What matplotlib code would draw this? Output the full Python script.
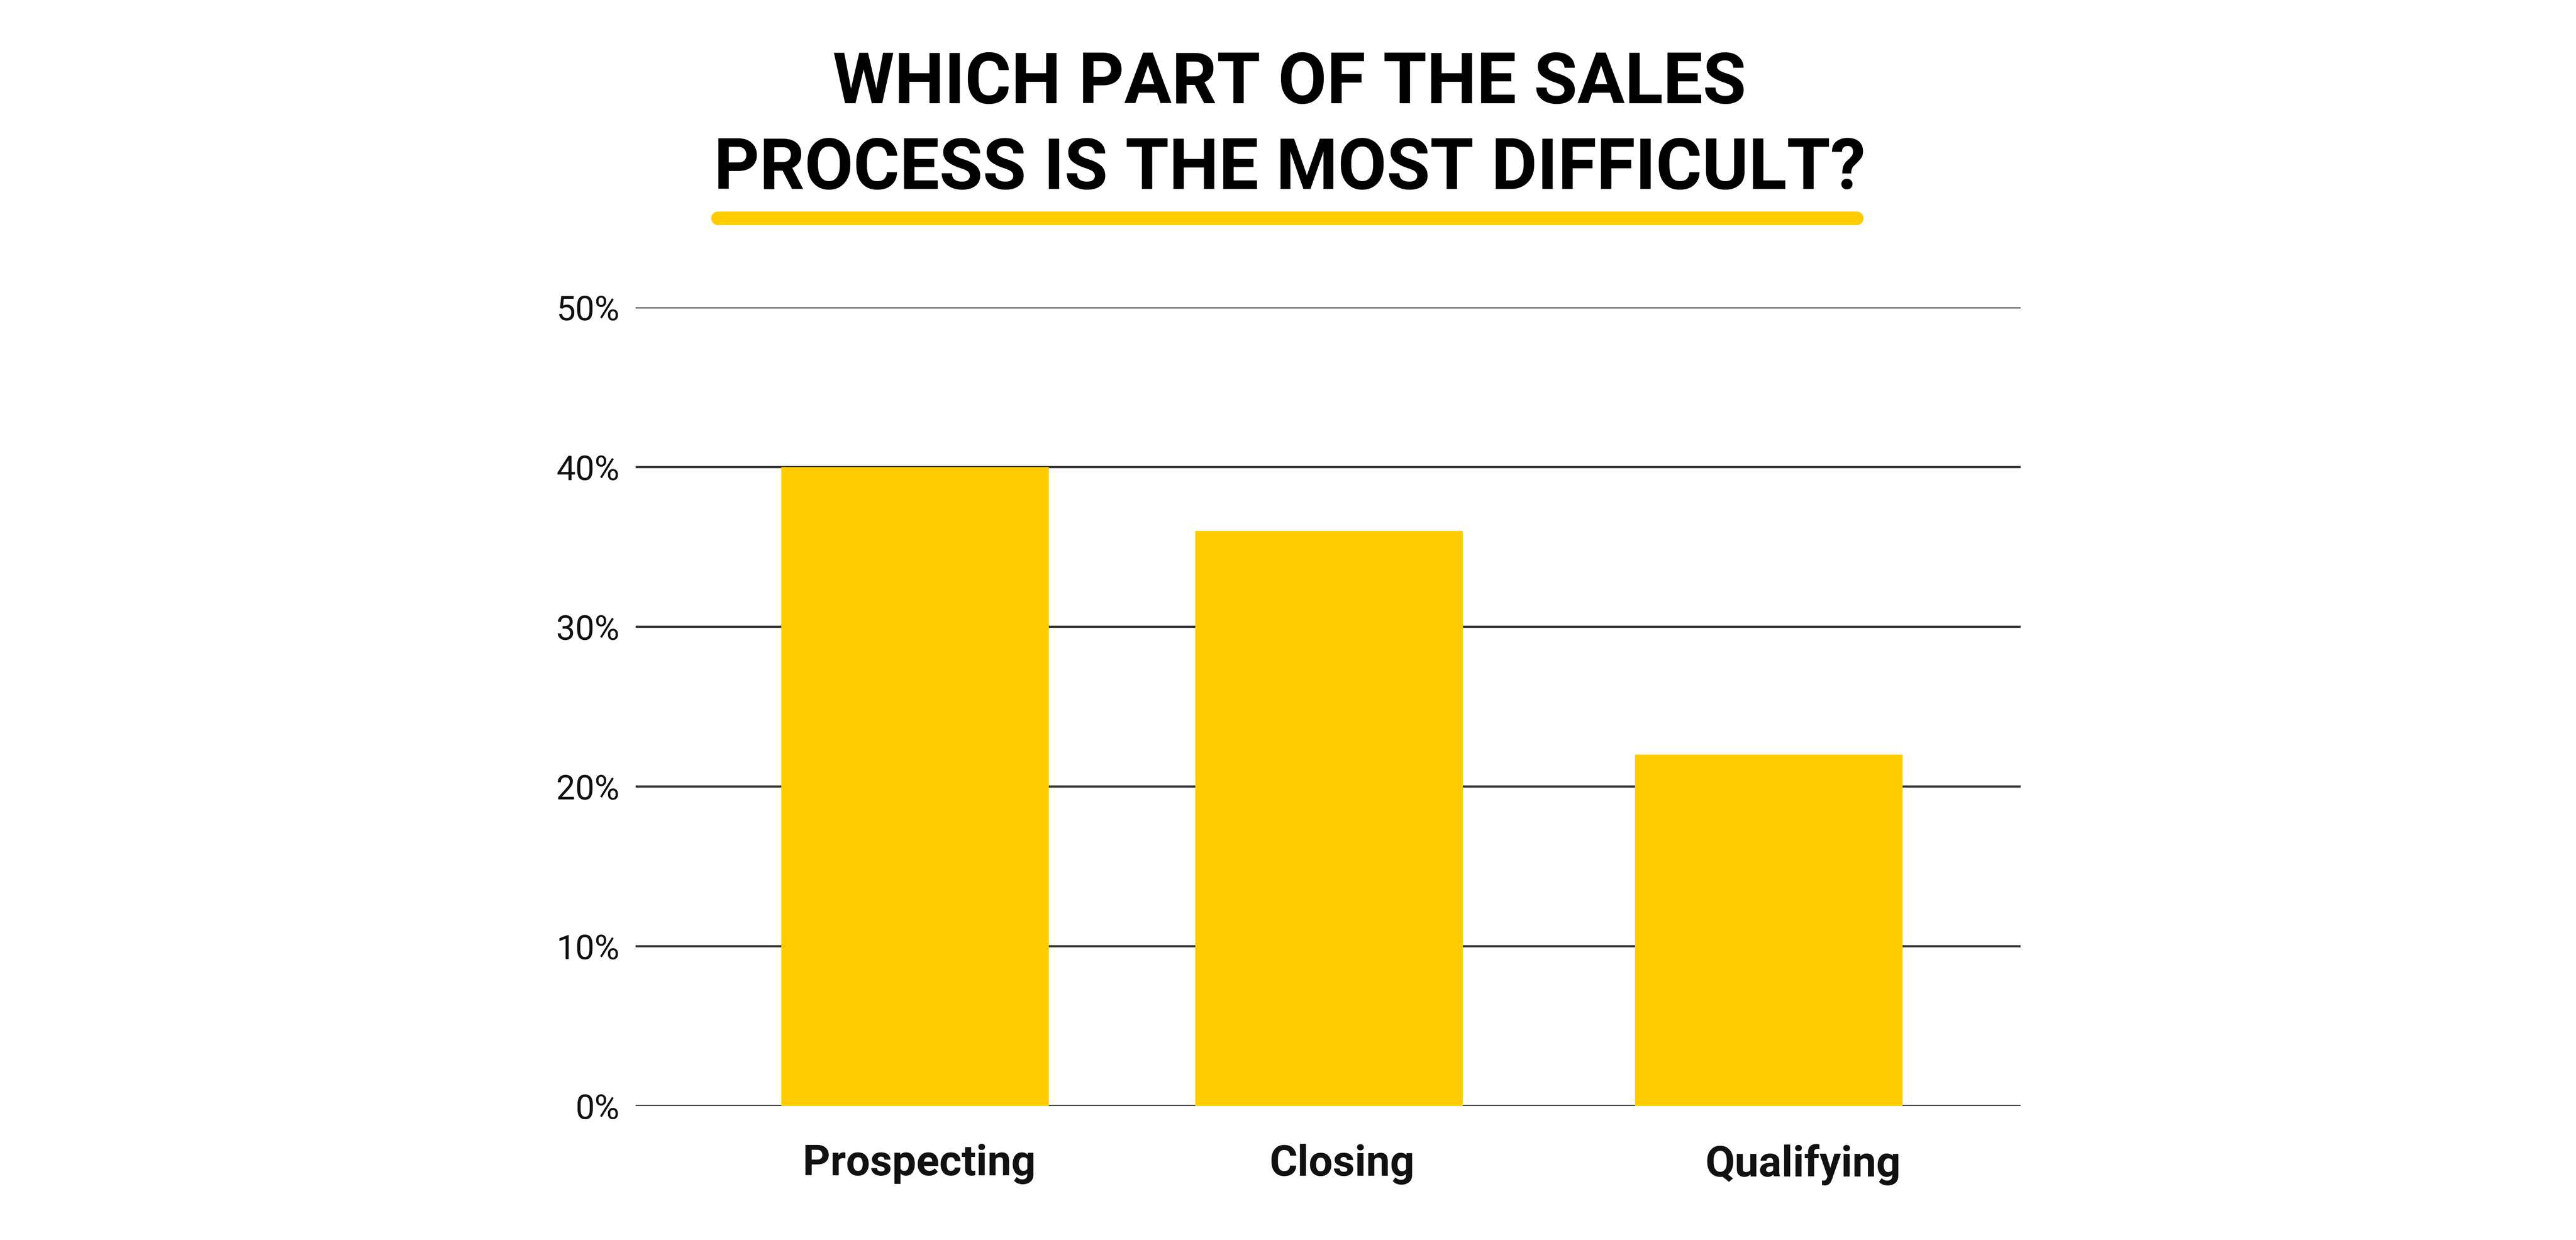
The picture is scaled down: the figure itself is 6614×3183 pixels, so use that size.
import matplotlib
matplotlib.use('Agg')
import matplotlib.pyplot as plt
from matplotlib.lines import Line2D

categories = ['Prospecting', 'Closing', 'Qualifying']
values = [40, 36, 22]
yticks = [0, 10, 20, 30, 40, 50]
ytick_labels = ['0%', '10%', '20%', '30%', '40%', '50%']
title_lines = ['WHICH PART OF THE SALES', 'PROCESS IS THE MOST DIFFICULT?']

yellow = '#FFCC00'
plt.rcParams['font.family'] = ['Roboto', 'DejaVu Sans']

fig = plt.figure(figsize=(66.14, 31.83), dpi=100)
ax = fig.add_axes([0.2468, 0.108, 0.5376, 0.644])

# bar slots and labels are not quite evenly spaced in the original
x = [0, 0.97, 2]
label_x = [0.01, 1.0, 2.08]
ax.bar(x, values, width=0.627, color=yellow, zorder=3)

ax.set_xlim(-0.654, 2.59)
ax.set_ylim(0, 50)
ax.set_yticks(yticks)
ax.set_yticklabels(ytick_labels, fontsize=63, color='#111111')
ax.set_xticks(label_x)
ax.set_xticklabels(categories, fontsize=79, fontweight='bold', color='#111111')
ax.tick_params(axis='y', length=0, pad=30)
ax.tick_params(axis='x', length=0, pad=70)

ax.grid(axis='y', color='#333333', linewidth=4, zorder=1)
ax.grid(axis='x', visible=False)
for s in ax.spines.values():
    s.set_visible(False)

fig.text(0.5006, 0.9166, title_lines[0], ha='center', va='baseline',
         fontsize=130.5, fontweight='bold', color='#000000')
fig.text(0.5006, 0.8477, title_lines[1], ha='center', va='baseline',
         fontsize=130.5, fontweight='bold', color='#000000')

fig.add_artist(Line2D([0.2787, 0.7207], [0.824, 0.824], transform=fig.transFigure,
                      color=yellow, linewidth=25, solid_capstyle='round'))

fig.savefig('out.png', dpi=100, facecolor='white')
